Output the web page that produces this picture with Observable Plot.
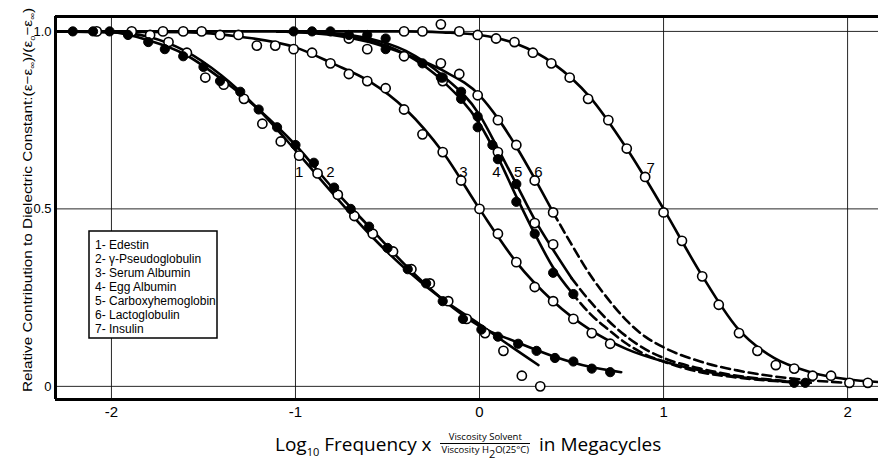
<!DOCTYPE html>
<html><head><meta charset="utf-8">
<script src="https://cdn.jsdelivr.net/npm/d3@7"></script>
<script src="https://cdn.jsdelivr.net/npm/@observablehq/plot@0.6"></script>
<style>
body{margin:0;background:#fff;}
#wrap{position:relative;width:878px;height:464px;overflow:hidden;}
#xlabel{position:absolute;top:431px;left:275px;font-family:"Open Sans",sans-serif;font-size:19px;color:#000;white-space:nowrap;}
#xlabel sub{font-size:11px;vertical-align:-5px;}
.frac{display:inline-block;vertical-align:middle;text-align:center;font-size:9.5px;line-height:10px;margin:0 4px;}
.frac .num{display:block;border-bottom:1px solid #000;padding:0 1px 1px;}
.frac .den{display:block;padding:1px 1px 0;}
.frac sub{font-size:7px;vertical-align:-1px;}
</style></head><body>
<div id="wrap"><div id="chart"></div>
<div id="xlabel">Log<sub>10</sub> Frequency x <span class="frac"><span class="num">Viscosity Solvent</span><span class="den">Viscosity H<sub>2</sub>O(25°C)</span></span> in Megacycles</div></div>
<script>
const edestinX = [-2.08,-1.79,-1.69,-1.59,-1.49,-1.39,-1.28,-1.18,-1.08,-0.98,-0.88,-0.77,-0.68,-0.58,-0.47,-0.37,-0.27,-0.17,-0.07,0.03,0.13,0.23,0.33];
const edestinY = [1.00,0.99,0.97,0.94,0.87,0.85,0.81,0.74,0.69,0.65,0.60,0.54,0.48,0.43,0.38,0.33,0.29,0.24,0.19,0.15,0.10,0.03,0.00];
const pseudoX = [-2.21,-2.10,-2.01,-1.91,-1.80,-1.71,-1.61,-1.50,-1.41,-1.30,-1.20,-1.10,-1.00,-0.90,-0.79,-0.70,-0.60,-0.50,-0.39,-0.29,-0.20,-0.09,0.01,0.10,0.21,0.31,0.41,0.51,0.61,0.71];
const pseudoY = [1.00,1.00,1.00,0.99,0.97,0.95,0.93,0.90,0.86,0.83,0.78,0.73,0.68,0.63,0.56,0.50,0.45,0.39,0.33,0.29,0.24,0.19,0.16,0.14,0.12,0.10,0.08,0.07,0.05,0.04];
const serumX = [-1.89,-1.72,-1.61,-1.51,-1.41,-1.31,-1.21,-1.11,-1.01,-0.91,-0.81,-0.71,-0.61,-0.51,-0.41,-0.31,-0.20,-0.10,0.00,0.10,0.20,0.30,0.40,0.51,0.61,0.71];
const serumY = [1.00,1.00,1.00,1.00,0.99,0.99,0.96,0.96,0.95,0.94,0.91,0.88,0.86,0.84,0.78,0.71,0.66,0.58,0.50,0.43,0.35,0.28,0.24,0.19,0.15,0.12];
const eggX = [-1.01,-0.91,-0.81,-0.71,-0.61,-0.51,-0.31,-0.21,-0.10,-0.01,0.10,0.20,0.30,0.40,0.51,1.71];
const eggY = [1.00,1.00,1.00,0.99,0.99,0.95,0.91,0.87,0.81,0.73,0.64,0.52,0.43,0.32,0.26,0.01];
const carboxySolidX = [-0.51,-0.20,-0.10,-0.01,0.07,0.20,1.77];
const carboxySolidY = [0.98,0.87,0.83,0.76,0.68,0.57,0.01];
const carboxyOpenX = [-0.20,0.10,0.30,0.40];
const carboxyOpenY = [0.86,0.66,0.46,0.40];
const lactoX = [-0.71,-0.61,-0.41,-0.21,-0.11,-0.01,0.10,0.20,0.30,0.40];
const lactoY = [0.98,0.95,0.93,0.91,0.88,0.82,0.75,0.68,0.58,0.49];
const insulinX = [-0.41,-0.31,-0.21,-0.11,-0.01,0.09,0.19,0.29,0.39,0.49,0.59,0.70,0.80,0.90,1.00,1.10,1.21,1.30,1.41,1.51,1.61,1.71,1.81,1.91,2.01,2.11];
const insulinY = [1.00,1.00,1.02,1.00,0.99,0.98,0.97,0.94,0.91,0.87,0.81,0.75,0.67,0.59,0.49,0.41,0.31,0.23,0.15,0.10,0.06,0.05,0.03,0.03,0.01,0.01];

// ---- drawn curves ----
const curve1X = [-2.30,-2.0,-1.8,-1.6,-1.4,-1.2,-1.0,-0.8,-0.6,-0.4,-0.2,0.0,0.15,0.32];
const curve1Y = [1.0,0.998,0.985,0.945,0.875,0.78,0.665,0.545,0.43,0.33,0.245,0.175,0.12,0.06];
const curve2X = [-2.30,-2.0,-1.8,-1.6,-1.4,-1.2,-1.0,-0.8,-0.6,-0.4,-0.2,0.0,0.2,0.4,0.6,0.77];
const curve2Y = [1.0,0.998,0.975,0.935,0.865,0.78,0.68,0.56,0.45,0.34,0.245,0.17,0.125,0.085,0.055,0.04];
const curve3X = [-2.30,-1.6,-1.3,-1.0,-0.8,-0.6,-0.4,-0.2,0.0,0.2,0.4,0.6,0.8,1.0,1.3,1.7];
const curve3Y = [1.0,0.998,0.985,0.955,0.91,0.86,0.78,0.66,0.50,0.35,0.24,0.16,0.105,0.07,0.035,0.012];
const curve4X = [-1.1,-0.8,-0.6,-0.4,-0.2,0.0,0.1,0.2,0.3,0.4,0.5];
const curve4Y = [1.0,0.993,0.975,0.935,0.86,0.74,0.645,0.535,0.43,0.335,0.265];
const dash4X = [0.5,0.6,0.7,0.8,0.9,1.0,1.2,1.4,1.6,1.75];
const dash4Y = [0.265,0.205,0.16,0.12,0.09,0.07,0.04,0.025,0.015,0.01];
const curve5X = [-1.1,-0.8,-0.6,-0.4,-0.2,0.0,0.1,0.2,0.3,0.4,0.5];
const curve5Y = [1.0,0.995,0.98,0.945,0.875,0.765,0.67,0.57,0.47,0.385,0.305];
const dash5X = [0.5,0.6,0.7,0.8,0.9,1.0,1.2,1.4,1.6,1.8];
const dash5Y = [0.305,0.24,0.185,0.14,0.105,0.08,0.05,0.03,0.018,0.01];
const curve6X = [-1.1,-0.8,-0.6,-0.4,-0.2,0.0,0.1,0.2,0.3,0.4];
const curve6Y = [1.0,0.99,0.97,0.935,0.89,0.82,0.755,0.675,0.585,0.49];
const dash6X = [0.4,0.5,0.6,0.7,0.8,0.9,1.0,1.2,1.4,1.6,1.8,2.0];
const dash6Y = [0.49,0.40,0.315,0.245,0.185,0.14,0.11,0.07,0.045,0.028,0.017,0.01];
const curve7X = [-2.30,-0.4,-0.2,0.0,0.2,0.4,0.6,0.8,1.0,1.2,1.4,1.6,1.8,2.0,2.17];
const curve7Y = [1.0,1.0,0.997,0.99,0.965,0.91,0.815,0.67,0.50,0.32,0.165,0.08,0.04,0.02,0.012];

// ---- labels ----
const curveNames = ["1","2","3","4","5","6","7"];
const curveLabelX = [-0.98,-0.81,-0.087,0.092,0.21,0.32,0.93];
const curveLabelY = [0.603,0.603,0.603,0.603,0.603,0.603,0.614];
const legendItems = ["1- Edestin","2- γ-Pseudoglobulin","3- Serum Albumin","4- Egg Albumin","5- Carboxyhemoglobin","6- Lactoglobulin","7- Insulin"];
const xTicks = [-2,-1,0,1,2];
const yTicks = [0,0.5,1];
const xDomain = [-2.304,2.168];
const yDomain = [-0.037,1.042];

const zip = (xs, ys, id) => xs.map((x,i)=>({x, y: ys[i], id}));
const openPts = [...zip(edestinX,edestinY,1),...zip(serumX,serumY,3),...zip(carboxyOpenX,carboxyOpenY,5),...zip(lactoX,lactoY,6),...zip(insulinX,insulinY,7)];
const solidPts = [...zip(pseudoX,pseudoY,2),...zip(eggX,eggY,4),...zip(carboxySolidX,carboxySolidY,5)];
const solidLines = [...zip(curve1X,curve1Y,1),...zip(curve2X,curve2Y,2),...zip(curve3X,curve3Y,3),...zip(curve4X,curve4Y,4),...zip(curve5X,curve5Y,5),...zip(curve6X,curve6Y,6),...zip(curve7X,curve7Y,7)];
const dashLines = [...zip(dash4X,dash4Y,4),...zip(dash5X,dash5Y,5),...zip(dash6X,dash6Y,6)];
const labels = curveNames.map((t,i)=>({t, x: curveLabelX[i], y: curveLabelY[i]}));
const fmtX = d => String(d);
const fmtY = d => d === 0 ? "0" : d.toFixed(1);

const chart = Plot.plot({
  width: 878, height: 420,
  marginTop: 16, marginBottom: 21, marginLeft: 55, marginRight: 0,
  style: {fontFamily: "'Liberation Sans Narrow', sans-serif", fontSize: "14px", background: "#fff"},
  x: {domain: xDomain, ticks: xTicks, tickFormat: fmtX, label: null},
  y: {domain: yDomain, ticks: yTicks, tickFormat: fmtY, label: null},
  marks: [
    Plot.gridX(xTicks, {stroke: "#111", strokeOpacity: 0.9, strokeWidth: 1}),
    Plot.gridY(yTicks, {stroke: "#111", strokeOpacity: 0.9, strokeWidth: 1}),
    Plot.line(solidLines, {x: "x", y: "y", z: "id", curve: "monotone-x", stroke: "#000", strokeWidth: 2.6}),
    Plot.line(dashLines, {x: "x", y: "y", z: "id", curve: "monotone-x", stroke: "#000", strokeWidth: 2.6, strokeDasharray: "9,5"}),
    Plot.dot(openPts, {x: "x", y: "y", r: 4.6, fill: "#fff", stroke: "#000", strokeWidth: 1.6}),
    Plot.dot(solidPts, {x: "x", y: "y", r: 4.6, fill: "#000", stroke: "#000", strokeWidth: 1}),
    Plot.text(labels, {x: "x", y: "y", text: "t", fontSize: 15, fill: "#000"}),
    Plot.ruleY([yDomain[1]], {stroke: "#000", strokeWidth: 3}),
    Plot.ruleY([yDomain[0]], {stroke: "#000", strokeWidth: 3}),
    Plot.ruleX([xDomain[0]], {stroke: "#000", strokeWidth: 3}),
    Plot.axisX({ticks: xTicks, tickSize: 0, tickPadding: 7, fontSize: 15, tickFormat: fmtX, label: null}),
    Plot.axisY({ticks: yTicks, tickSize: 0, tickPadding: 4, fontSize: 13, tickFormat: fmtY, label: null})
  ]
});
document.getElementById("chart").appendChild(chart);

const svg = d3.select(chart);
// legend box
const lg = svg.append("g").attr("font-family", "'Liberation Sans Narrow', sans-serif").attr("font-size", 12).attr("text-anchor", "start");
lg.append("rect").attr("x", 89).attr("y", 231).attr("width", 128).attr("height", 107)
  .attr("fill", "#fff").attr("stroke", "#000").attr("stroke-width", 1.5);
legendItems.forEach((t, i) => {
  lg.append("text").attr("x", 95).attr("y", 245 + i * 14).attr("dy", "0.35em").attr("text-anchor", "start").text(t);
});
// y-axis title
const yl = svg.append("text").attr("transform", "translate(27,200) rotate(-90)")
  .attr("text-anchor", "middle").attr("dy", "0.35em")
  .attr("font-family", "'Liberation Sans Narrow', sans-serif").attr("font-size", 13)
  .attr("textLength", 384).attr("lengthAdjust", "spacingAndGlyphs");
yl.append("tspan").text("Relative Contribution to Dielectric Constant:(ε−ε");
yl.append("tspan").attr("font-size", 8).attr("dy", "3").text("∞");
yl.append("tspan").attr("dy", "-3").text(")/(ε");
yl.append("tspan").attr("font-size", 8).attr("dy", "3").text("o");
yl.append("tspan").attr("dy", "-3").text("−ε");
yl.append("tspan").attr("font-size", 8).attr("dy", "3").text("∞");
yl.append("tspan").attr("dy", "-3").text(")");
</script>
</body></html>
